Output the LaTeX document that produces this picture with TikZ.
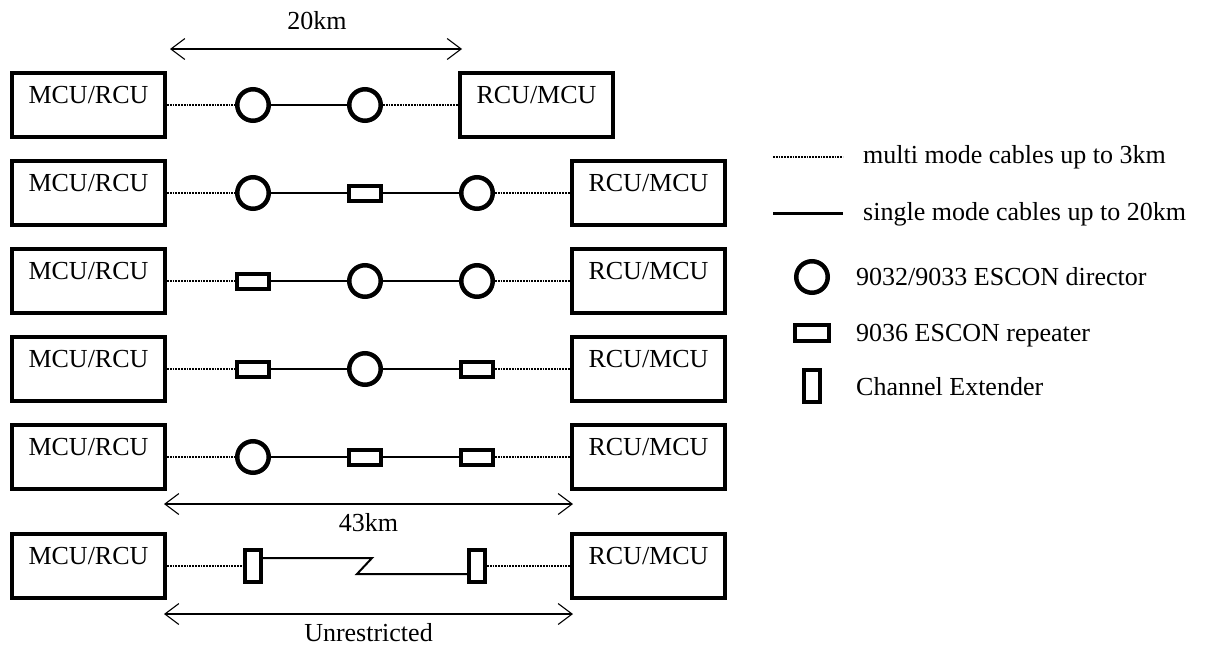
\documentclass[tikz,border=0pt]{standalone}
\usepackage{fontspec}
\setmainfont{Liberation Serif}
\usetikzlibrary{arrows.meta,calc}
\begin{document}
\begin{tikzpicture}[x=1pt,y=-1pt,
  txt/.style={font=\fontsize{26}{30}\selectfont, inner sep=0pt, anchor=base},
  btxt/.style={txt, yshift=2pt},
  ltxt/.style={txt, anchor=base west},
  unit/.style={draw, line width=4pt, minimum width=153pt, minimum height=64pt, inner sep=0pt},
  dirc/.style={draw, circle, line width=4.5pt, minimum size=31.5pt, inner sep=0pt},
  rep/.style={draw, rectangle, line width=4pt, minimum width=32pt, minimum height=15pt, inner sep=0pt},
  ext/.style={draw, rectangle, line width=4pt, minimum width=16pt, minimum height=32pt, inner sep=0pt},
  mm/.style={line width=2.4pt, dash pattern=on 1.8pt off 1.0pt},
  sm/.style={line width=2pt},
  dim/.style={line width=1.1pt, {Straight Barb[length=14pt,width=21pt]}-{Straight Barb[length=14pt,width=21pt]}}
]
\useasboundingbox (0,0) rectangle (1205,646);

% ---------- row 1 ----------
\node[unit] (l1) at (88.5,105) {};
\node[btxt] (l1t) at (l1.center) {MCU/RCU};
\node[unit] (r1) at (536.5,105) {};
\node[btxt] (r1t) at (r1.center) {RCU/MCU};
\node[dirc] (a1) at (253,105) {};
\node[dirc] (b1) at (365,105) {};
\draw[mm] (l1) -- (a1);
\draw[sm] (a1) -- (b1);
\draw[mm] (b1) -- (r1);

% ---------- row 2 ----------
\node[unit] (l2) at (88.5,193) {};
\node[btxt] (l2t) at (l2.center) {MCU/RCU};
\node[unit] (r2) at (648.5,193) {};
\node[btxt] (r2t) at (r2.center) {RCU/MCU};
\node[dirc] (a2) at (253,193) {};
\node[rep] (b2) at (365,193) {};
\node[dirc] (c2) at (477,193) {};
\draw[mm] (l2) -- (a2);
\draw[sm] (a2) -- (b2);
\draw[sm] (b2) -- (c2);
\draw[mm] (c2) -- (r2);

% ---------- row 3 ----------
\node[unit] (l3) at (88.5,281) {};
\node[btxt] (l3t) at (l3.center) {MCU/RCU};
\node[unit] (r3) at (648.5,281) {};
\node[btxt] (r3t) at (r3.center) {RCU/MCU};
\node[rep] (a3) at (253,281) {};
\node[dirc] (b3) at (365,281) {};
\node[dirc] (c3) at (477,281) {};
\draw[mm] (l3) -- (a3);
\draw[sm] (a3) -- (b3);
\draw[sm] (b3) -- (c3);
\draw[mm] (c3) -- (r3);

% ---------- row 4 ----------
\node[unit] (l4) at (88.5,369) {};
\node[btxt] (l4t) at (l4.center) {MCU/RCU};
\node[unit] (r4) at (648.5,369) {};
\node[btxt] (r4t) at (r4.center) {RCU/MCU};
\node[rep] (a4) at (253,369) {};
\node[dirc] (b4) at (365,369) {};
\node[rep] (c4) at (477,369) {};
\draw[mm] (l4) -- (a4);
\draw[sm] (a4) -- (b4);
\draw[sm] (b4) -- (c4);
\draw[mm] (c4) -- (r4);

% ---------- row 5 ----------
\node[unit] (l5) at (88.5,457) {};
\node[btxt] (l5t) at (l5.center) {MCU/RCU};
\node[unit] (r5) at (648.5,457) {};
\node[btxt] (r5t) at (r5.center) {RCU/MCU};
\node[dirc] (a5) at (253,457) {};
\node[rep] (b5) at (365,457) {};
\node[rep] (c5) at (477,457) {};
\draw[mm] (l5) -- (a5);
\draw[sm] (a5) -- (b5);
\draw[sm] (b5) -- (c5);
\draw[mm] (c5) -- (r5);

% ---------- row 6 ----------
\node[unit] (l6) at (88.5,566) {};
\node[btxt] (l6t) at (l6.center) {MCU/RCU};
\node[unit] (r6) at (648.5,566) {};
\node[btxt] (r6t) at (r6.center) {RCU/MCU};
\node[ext] (a6) at (253,566) {};
\node[ext] (c6) at (477,566) {};
\coordinate (zt) at (372,558);
\coordinate (zb) at (357,574);
\draw[mm] (l6) -- (a6);
\draw[sm] (a6.east |- zt) -- (zt) -- (zb) -- (zb -| c6.west);
\draw[mm] (c6) -- (r6);

% ---------- dimensions ----------
\coordinate (d1a) at (170,49);
\coordinate (d1b) at (462,49);
\draw[dim] (d1a) -- (d1b);
\node[txt] (d1t) at (317,29) {20km};

\coordinate (d2a) at (164,504);
\coordinate (d2b) at (573,504);
\draw[dim] (d2a) -- (d2b);
\node[txt] (d2t) at (368.5,531) {43km};

\coordinate (d3a) at (164,614);
\coordinate (d3b) at (573,614);
\draw[dim] (d3a) -- (d3b);
\node[txt] (d3t) at (368.5,641) {Unrestricted};

% ---------- legend ----------
\coordinate (lm1) at (773,157);
\coordinate (lm2) at (843,157);
\draw[mm, line width=1.8pt] (lm1) -- (lm2);
\node[ltxt] (lmt) at (863,163) {multi mode cables up to 3km};

\coordinate (ls1) at (773,213);
\coordinate (ls2) at (843,213);
\draw[sm, line width=3pt] (ls1) -- (ls2);
\node[ltxt] (lst) at (863,220) {single mode cables up to 20km};

\node[dirc] (ld) at (812,277) {};
\node[ltxt] (ldt) at (856,285) {9032/9033 ESCON director};

\node[rep, minimum width=34pt, minimum height=16pt] (lr) at (812,333) {};
\node[ltxt] (lrt) at (856,341) {9036 ESCON repeater};

\node[ext] (le) at (812,386) {};
\node[ltxt] (let) at (856,395) {Channel Extender};
\end{tikzpicture}
\end{document}
